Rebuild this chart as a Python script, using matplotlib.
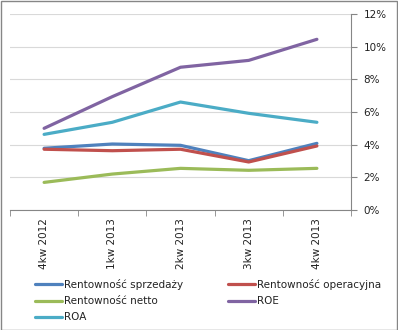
import matplotlib.pyplot as plt
from matplotlib.patches import Rectangle
from matplotlib.ticker import FuncFormatter, FixedLocator

kwartaly = ['4kw 2012', '1kw 2013', '2kw 2013', '3kw 2013', '4kw 2013']
sprzedazy = [3.78, 4.04, 3.96, 3.02, 4.08]
operacyjna = [3.72, 3.63, 3.72, 2.94, 3.92]
netto = [1.69, 2.20, 2.55, 2.43, 2.55]
roe = [5.00, 6.94, 8.74, 9.16, 10.45]
roa = [4.63, 5.37, 6.61, 5.92, 5.37]

serie = [
    ('Rentowność sprzedaży', sprzedazy, '#4F81BD'),
    ('Rentowność operacyjna', operacyjna, '#C0504D'),
    ('Rentowność netto', netto, '#9BBB59'),
    ('ROE', roe, '#8064A2'),
    ('ROA', roa, '#4BACC6'),
]

fig = plt.figure(figsize=(3.98, 3.30), dpi=100)
ax = fig.add_axes([10/398, 1-210/330, 341/398, 196/330])

x = list(range(len(kwartaly)))
linie = []
for nazwa, wart, kolor in serie:
    l, = ax.plot(x, wart, color=kolor, lw=2.3, label=nazwa, solid_capstyle='round')
    linie.append(l)

ax.set_xlim(-0.5, len(kwartaly) - 0.5)
ax.set_ylim(0, 12)
ax.set_yticks(range(0, 13, 2))
ax.yaxis.set_major_formatter(FuncFormatter(lambda v, p: f'{int(v)}%'))
ax.yaxis.tick_right()
ax.grid(axis='y', color='#D9D9D9', lw=0.8)
ax.set_axisbelow(True)

ax.set_xticks(x)
ax.set_xticklabels(kwartaly, rotation=90, fontsize=7.5, color='#222222')
ax.xaxis.set_minor_locator(FixedLocator([i - 0.5 for i in range(len(kwartaly) + 1)]))
ax.tick_params(axis='x', which='major', length=0, pad=6)
ax.tick_params(axis='x', which='minor', length=4, color='#868686', direction='out')
ax.tick_params(axis='y', length=4, color='#868686', labelsize=7.5, labelcolor='#222222', pad=5)

for s in ['left', 'top']:
    ax.spines[s].set_visible(False)
for s in ['right', 'bottom']:
    ax.spines[s].set_color('#868686')

# legenda wierszami: w kolumnach po kolei 0,2,4 i 1,3
kolejnosc = [0, 2, 4, 1, 3]
leg = fig.legend([linie[i] for i in kolejnosc], [serie[i][0] for i in kolejnosc],
                 loc='upper left', bbox_to_anchor=(35/398, 1-279/330), ncol=2,
                 frameon=False, fontsize=7.5, handlelength=2.6, handletextpad=0.2,
                 columnspacing=4.3, labelspacing=0.6, borderaxespad=0, borderpad=0)
for t in leg.get_texts():
    t.set_color('#222222')

fig.patches.append(Rectangle((0.5/398, 0.5/330), 1-1.5/398, 1-1.5/330, transform=fig.transFigure,
                             fill=False, edgecolor='#868686', lw=1))

fig.savefig('out.png', dpi=100)
